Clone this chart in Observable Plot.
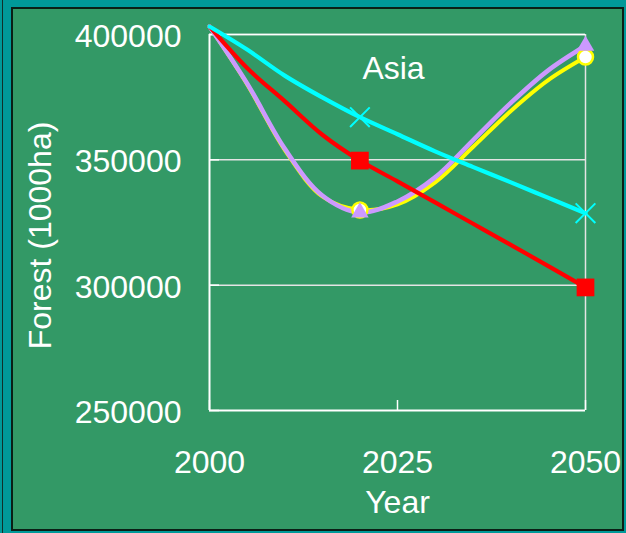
<!DOCTYPE html>
<html>
<head>
<meta charset="utf-8">
<script src="https://cdn.jsdelivr.net/npm/d3@7"></script>
<script src="https://cdn.jsdelivr.net/npm/@observablehq/plot@0.6"></script>
<style>
  html, body { margin: 0; padding: 0; width: 626px; height: 533px; overflow: hidden; background: #009999; }
  #edge { position: absolute; left: 2px; top: 0; width: 1px; height: 533px; background: #10302a; }
  #panel { position: absolute; left: 11px; top: 7px; width: 609px; height: 520px; background: #339966; border: 2px solid #0b1f16; }
  #chart { position: absolute; left: 0; top: 0; }
</style>
</head>
<body>
<div id="edge"></div>
<div id="panel"></div>
<div id="chart"></div>
<script>
// Forest area projections for Asia (1000 ha), four scenarios
const years = [2000, 2005, 2010, 2015, 2020, 2025, 2030, 2035, 2040, 2045, 2050];
const redSeries    = [403200, 386600, 373400, 360000, 349700, 341400, 333000, 324600, 316200, 307700, 299100];
const cyanSeries   = [403200, 394000, 383600, 374900, 367000, 360200, 353400, 347200, 341100, 334900, 328700];
const yellowSeries = [403200, 380200, 354000, 335400, 330000, 332200, 341000, 355000, 369300, 381700, 391000];
const purpleSeries = [403200, 380500, 354500, 335800, 329000, 333400, 343000, 357700, 372500, 385600, 395500];

const markerYears = [2020, 2050];
const xTicks = [2000, 2025, 2050];
const yTicks = [250000, 300000, 350000, 400000];
const gridValues = [300000, 350000, 400000];

const rows = (vals) => years.map((year, i) => ({year, value: vals[i]}));
const marked = (vals) => rows(vals).filter(d => markerYears.includes(d.year));

const font = "Liberation Sans, Arial, sans-serif";
const fmt = d3.format("d");

const chart = Plot.plot({
  width: 626,
  height: 533,
  marginLeft: 209,
  marginRight: 41,
  marginTop: 34,
  marginBottom: 123,
  style: {background: "transparent", color: "white", fontFamily: font, overflow: "visible"},
  x: {domain: [2000, 2050]},
  y: {domain: [250000, 400000]},
  marks: [
    // grid and plot-area edges
    Plot.ruleY(gridValues, {y: d => d, stroke: "#e4e4e4", strokeWidth: 1.5}),
    Plot.ruleX([2050], {x: d => d, stroke: "#e4e4e4", strokeWidth: 1.5}),
    Plot.ruleY([400000], {y: d => d, stroke: "white", strokeWidth: 1.5}),
    Plot.ruleX([2000], {x: d => d, stroke: "white", strokeWidth: 2}),
    Plot.ruleY([250000], {y: d => d, stroke: "white", strokeWidth: 2}),
    // inward tick marks
    Plot.tickX(xTicks, {x: d => d, insetTop: 366, stroke: "white", strokeWidth: 1.5}),
    Plot.tickY(yTicks, {y: d => d, insetRight: 366, stroke: "white", strokeWidth: 1.5}),
    // axes
    Plot.axisY(yTicks, {tickSize: 0, tickPadding: 28, fontSize: 32, dy: 2.4, tickFormat: fmt, label: null}),
    Plot.axisX(xTicks, {tickSize: 0, tickPadding: 39.3, fontSize: 32, tickFormat: fmt, label: null}),
    Plot.text(["Year"], {frameAnchor: "bottom", lineAnchor: "middle", dy: 92.7, fontSize: 32, fill: "white"}),
    Plot.text(["Forest (1000ha)"], {frameAnchor: "left", textAnchor: "middle", lineAnchor: "middle", dx: -169.2, dy: 13, rotate: -90, fontSize: 32, fill: "white"}),
    Plot.text(["Asia"], {frameAnchor: "top", lineAnchor: "middle", dx: -4, dy: 34, fontSize: 32, fill: "white"}),
    // scenario lines
    Plot.line(rows(yellowSeries), {x: "year", y: "value", stroke: "#ffff00", strokeWidth: 4, curve: "catmull-rom"}),
    Plot.line(rows(purpleSeries), {x: "year", y: "value", stroke: "#cc99ff", strokeWidth: 4.5, curve: "catmull-rom"}),
    Plot.line(rows(redSeries), {x: "year", y: "value", stroke: "#ff0000", strokeWidth: 4.2, curve: "catmull-rom"}),
    Plot.line(rows(cyanSeries), {x: "year", y: "value", stroke: "#00ffff", strokeWidth: 4.2, curve: "catmull-rom"}),
    // markers
    Plot.dot(marked(yellowSeries), {x: "year", y: "value", symbol: "circle", r: 7.5, fill: "white", stroke: "#ffff00", strokeWidth: 2.5}),
    Plot.dot(marked(purpleSeries), {x: "year", y: "value", symbol: "triangle", r: 6.5, fill: "#cc99ff", stroke: "none"}),
    Plot.dot(marked(redSeries), {x: "year", y: "value", symbol: "square", r: 10, fill: "#ff0000", stroke: "none"}),
    Plot.dot(marked(cyanSeries), {x: "year", y: "value", symbol: "times", r: 9, stroke: "#00ffff", strokeWidth: 2})
  ]
});

document.getElementById("chart").append(chart);
</script>
</body>
</html>
